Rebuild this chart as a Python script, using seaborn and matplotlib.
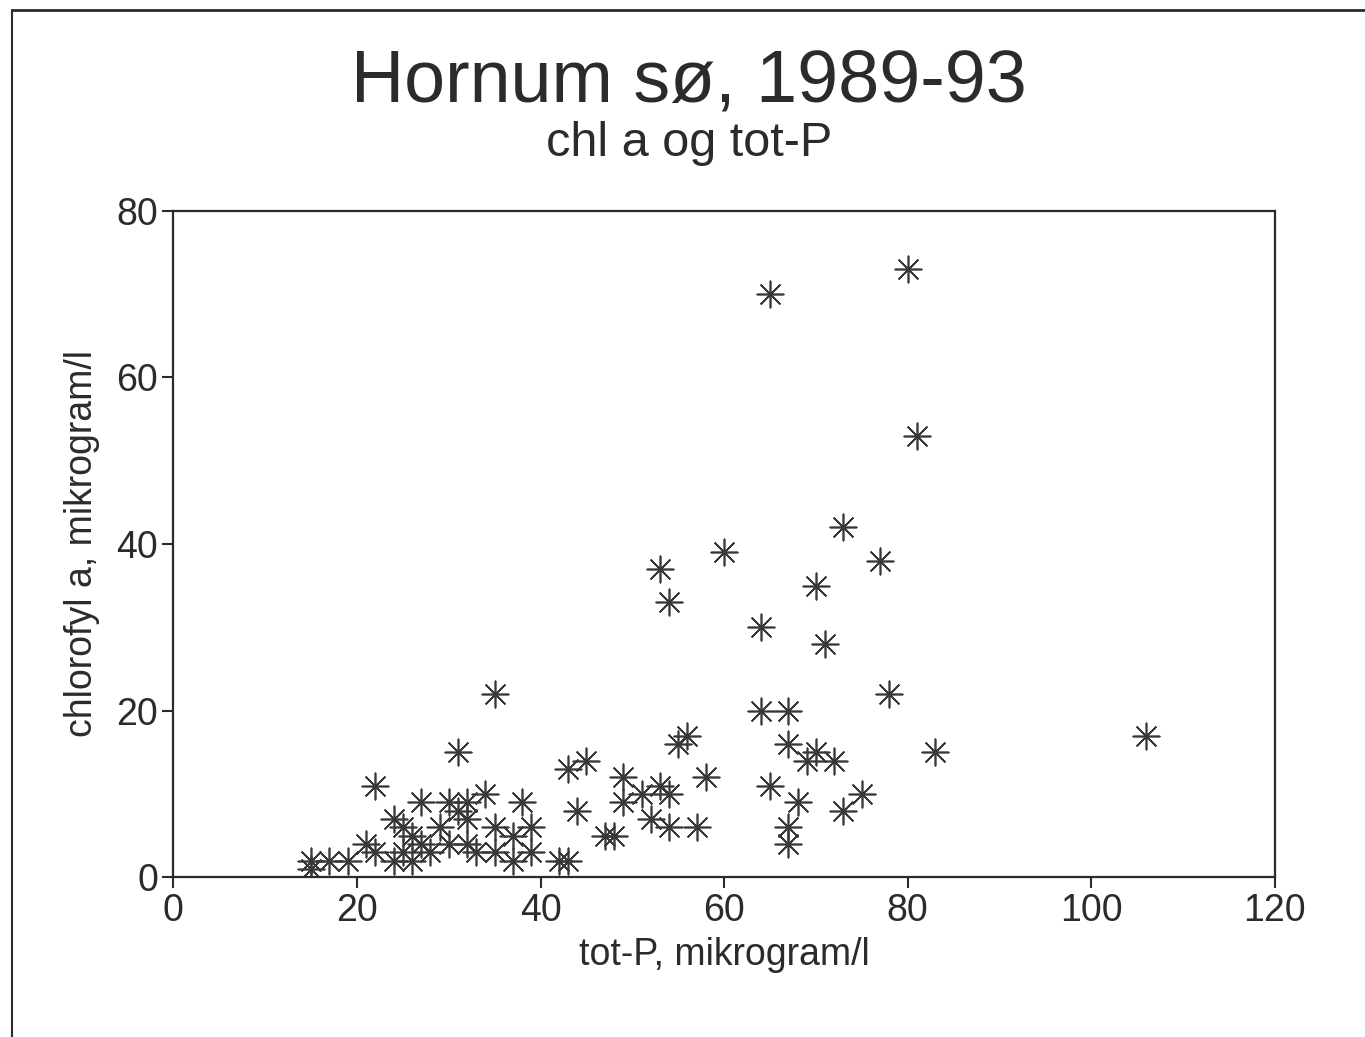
import matplotlib
matplotlib.use("Agg")
import matplotlib.pyplot as plt
from matplotlib.lines import Line2D
import pandas as pd
import seaborn as sns

# tot-P (microgram/l) and chlorophyll a (microgram/l)
tot_p = [15, 15, 17, 19, 21, 22, 22, 24, 24, 25, 25, 26, 26, 27, 27, 28,
         29, 30, 30, 31, 31, 32, 32, 32, 33, 34, 35, 35, 35, 37, 37, 38,
         39, 39, 42, 43, 43, 44, 45, 47, 48, 49, 49, 51, 52, 53, 54, 54,
         53, 54, 55, 56, 57, 58, 60, 64, 64, 65, 65, 67, 67, 67, 67, 68,
         69, 70, 70, 71, 72, 73, 73, 75, 77, 78, 80, 81, 83, 106]
chl_a = [2, 1, 2, 2, 4, 11, 3, 2, 7, 3, 6, 2, 5, 9, 4, 3,
         6, 4, 9, 15, 8, 9, 7, 4, 3, 10, 22, 6, 3, 5, 2, 9,
         6, 3, 2, 2, 13, 8, 14, 5, 5, 9, 12, 10, 7, 11, 10, 6,
         37, 33, 16, 17, 6, 12, 39, 30, 20, 70, 11, 20, 16, 6, 4, 9,
         14, 15, 35, 28, 14, 8, 42, 10, 38, 22, 73, 53, 15, 17]

x_ticks = [0, 20, 40, 60, 80, 100, 120]
y_ticks = [0, 20, 40, 60, 80]

df = pd.DataFrame({"tot_p": tot_p, "chl_a": chl_a})

sns.set_theme(style="ticks")
plt.rcParams["font.family"] = ["Liberation Sans", "DejaVu Sans"]

ink = "#2b2b2b"
fig = plt.figure(figsize=(13.65, 10.37), dpi=100)
ax = fig.add_axes([0.127, 0.154, 0.807, 0.643])

sns.scatterplot(data=df, x="tot_p", y="chl_a", marker=(8, 2, 0), s=360,
                color="#383838", linewidth=1.2, ax=ax, legend=False)

ax.set_xlim(0, 120)
ax.set_ylim(0, 80)
ax.set_xticks(x_ticks)
ax.set_yticks(y_ticks)
ax.tick_params(direction="out", length=8, width=1.5, labelsize=27,
               colors=ink, pad=3)
for sp in ax.spines.values():
    sp.set_visible(True)
    sp.set_linewidth(1.6)
    sp.set_color(ink)

ax.set_xlabel("tot-P, mikrogram/l", fontsize=27, color=ink, labelpad=6)
ax.set_ylabel("chlorofyl a, mikrogram/l", fontsize=27, color=ink, labelpad=12)

fig.text(0.505, 0.921, "Hornum sø, 1989-93", ha="center", va="center",
         fontsize=53, color=ink)
fig.text(0.505, 0.862, "chl a og tot-P", ha="center", va="center",
         fontsize=35, color=ink)

# page frame from the scan
fig.add_artist(Line2D([0.009, 1.0], [0.990, 0.990], color=ink, lw=2,
                      transform=fig.transFigure))
fig.add_artist(Line2D([0.009, 0.009], [0.0, 0.990], color=ink, lw=1.5,
                      transform=fig.transFigure))

fig.savefig("out.png", dpi=100)
